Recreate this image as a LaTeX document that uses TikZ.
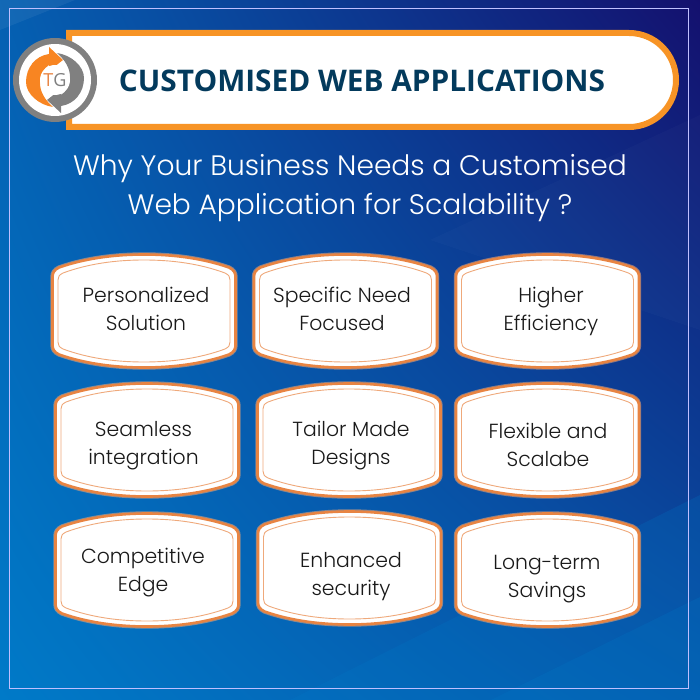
\documentclass[tikz,border=0pt]{standalone}
\usepackage{fontspec}
\setmainfont{Poppins Light}
\newfontfamily\titlefont{Open Sans}
\newfontfamily\logofont{Open Sans}
\usetikzlibrary{arrows.meta, positioning, shadings}
\definecolor{deepblue}{RGB}{0,122,200}
\definecolor{navyblue}{RGB}{20,16,110}
\definecolor{bannerorange}{RGB}{247,148,38}
\definecolor{cardorange}{RGB}{232,132,66}
\definecolor{titleblue}{RGB}{3,58,92}
\definecolor{logogray}{RGB}{128,128,128}
\tikzset{
    cardtext/.style={align=center,text=black!90,font=\fontsize{20.4}{28}\selectfont},
    logoarrow/.pic={
        \fill[pic actions] (8,-20) -- (-6,-33) -- (-6,-26)
            .. controls (-20,-24) and (-29,-12) .. (-29,2)
            .. controls (-29,14) and (-16,25) .. (-2,27)
            .. controls (-10,20) and (-15,12) .. (-15,3)
            .. controls (-15,-5) and (-11,-12) .. (-6,-15) -- (-6,-9) -- cycle;
    },
    plaque/.pic={
        \draw[cardorange,line width=2.6,fill=white,preaction={draw,line width=4.4,cardorange!70!white,opacity=.55}]
            (-91.5,-34) .. controls (-91.5,-38) and (-90,-41) .. (-85,-43.5)
            .. controls (-58,-53) and (-28,-56.5) .. (0,-56.5)
            .. controls (28,-56.5) and (58,-53) .. (85,-43.5)
            .. controls (90,-41) and (91.5,-38) .. (91.5,-34)
            -- (91.5,34) .. controls (91.5,38) and (90,41) .. (85,43.5)
            .. controls (58,53) and (28,56.5) .. (0,56.5)
            .. controls (-28,56.5) and (-58,53) .. (-85,43.5)
            .. controls (-90,41) and (-91.5,38) .. (-91.5,34) -- cycle;
        \draw[cardorange!70,line width=0.9]
            (-86,-31) .. controls (-86,-34) and (-85,-36) .. (-81,-38)
            .. controls (-55,-47.5) and (-28,-51) .. (0,-51)
            .. controls (28,-51) and (55,-47.5) .. (81,-38)
            .. controls (85,-36) and (86,-34) .. (86,-31)
            -- (86,31) .. controls (86,34) and (85,36) .. (81,38)
            .. controls (55,47.5) and (28,51) .. (0,51)
            .. controls (-28,51) and (-55,47.5) .. (-81,38)
            .. controls (-85,36) and (-86,34) .. (-86,31) -- cycle;
    }
}
\begin{document}
\begin{tikzpicture}[x=1pt,y=-1pt]
    \useasboundingbox (0,0) rectangle (700,700);
    % background
    \shade[lower left=deepblue,lower right=deepblue!65!navyblue,upper left=deepblue!75!navyblue,upper right=navyblue] (0,0) rectangle (700,700);
    \fill[white,opacity=.06] (0,30) -- (75,0) -- (0,0) -- cycle;
    \fill[deepblue,opacity=.22] (290,700) -- (700,495) -- (700,700) -- cycle;
    \fill[deepblue,opacity=.22] (491,700) -- (700,597) -- (700,700) -- cycle;
    \fill[white,opacity=.02] (700,115) -- (430,240) -- (700,330) -- cycle;
    \draw[white!75!blue,line width=1] (9.5,9) rectangle (688,688);
    % banner
    \draw[bannerorange,line width=6,fill=white] (69,33) -- (629,33) arc (-90:90:47) -- (69,127) -- cycle;
    \node[text=titleblue,font=\titlefont\bfseries\fontsize{29.8}{32}\selectfont] (title) at (362,81) {CUSTOMISED WEB APPLICATIONS};
    % logo
    \coordinate (logo) at (55,80);
    \fill[logogray] (logo) circle (42);
    \fill[white] (logo) circle (36);
    \pic[bannerorange!90!red] at (logo) {logoarrow};
    \pic[logogray,rotate=180] at (logo) {logoarrow};
    \fill[white] (logo) circle (15);
    \node[font=\logofont\fontsize{18}{18}\selectfont,inner sep=0] (logotext) at (logo) {\textcolor{cardorange}{T}\textcolor{logogray}{G}};
    % question
    \node[text=white,align=center,font=\fontsize{28.1}{39}\selectfont] (question) at (350,188) {Why Your Business Needs a Customised\\Web Application for Scalability ?};
    % cards
    \foreach \name/\x/\y/\tx/\ty/\txt in {
        cardA/144/311/146/309/{Personalized\\Solution},
        cardB/345.5/311/342/309/{Specific Need\\Focused},
        cardC/547.5/311/551/311/{Higher\\Efficiency},
        cardD/147/440/143.5/446/{Seamless\\integration},
        cardE/349/440/351/446/{Tailor Made\\Designs},
        cardF/547.5/440/548/445/{Flexible and\\Scalabe},
        cardG/147/570/143/573/{Competitive\\Edge},
        cardH/349.5/568/351/577/{Enhanced\\security},
        cardI/547.5/570/547/579/{Long-term\\Savings}} {
        \pic at (\x,\y) {plaque};
        \node[cardtext] (\name) at (\tx,\ty) {\txt};
    }
\end{tikzpicture}
\end{document}
